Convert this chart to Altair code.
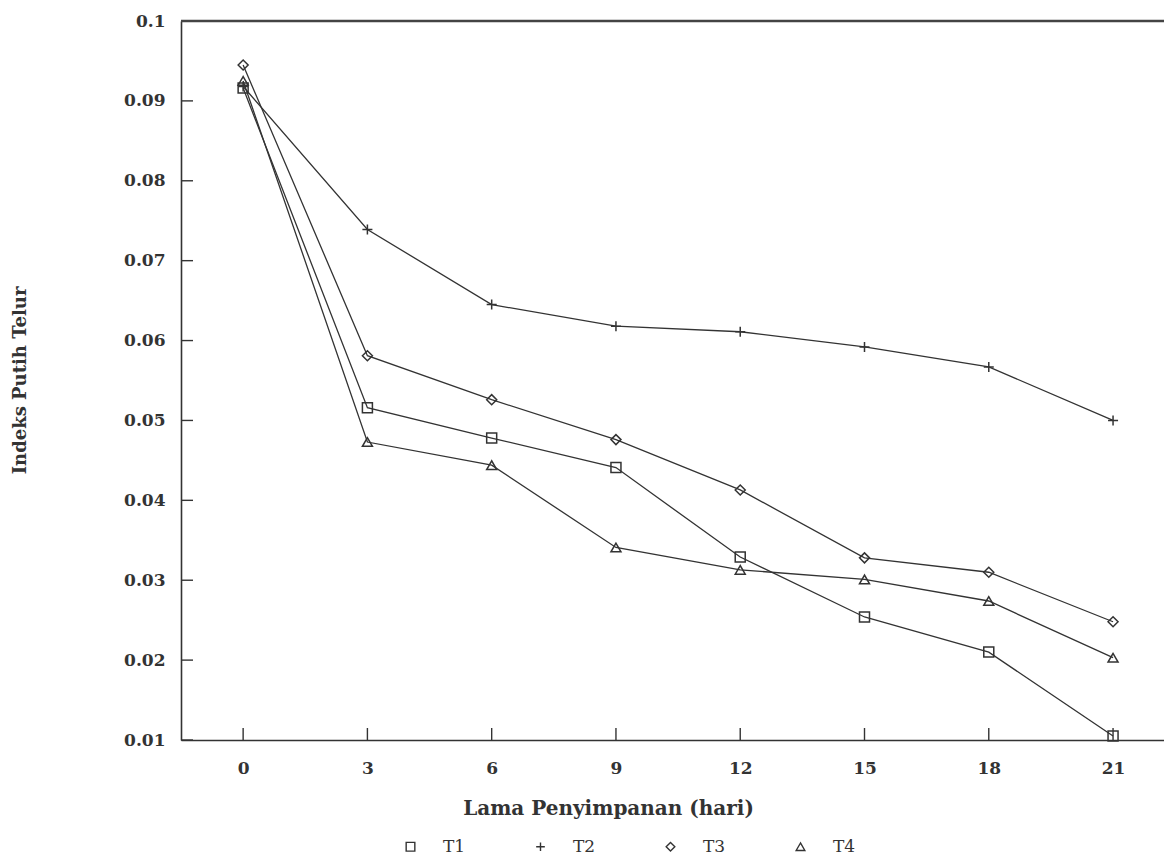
import altair as alt
import pandas as pd

days = [0, 3, 6, 9, 12, 15, 18, 21]
t1 = [0.0916, 0.0516, 0.0478, 0.0441, 0.0329, 0.0254, 0.0210, 0.0105]
t2 = [0.0918, 0.0739, 0.0645, 0.0618, 0.0611, 0.0592, 0.0567, 0.0500]
t3 = [0.0945, 0.0581, 0.0526, 0.0476, 0.0413, 0.0328, 0.0310, 0.0248]
t4 = [0.0925, 0.0473, 0.0444, 0.0341, 0.0313, 0.0301, 0.0274, 0.0203]
series_names = ["T1", "T2", "T3", "T4"]
y_ticks = [0.01, 0.02, 0.03, 0.04, 0.05, 0.06, 0.07, 0.08, 0.09, 0.1]

rows = []
for name, vals in zip(series_names, [t1, t2, t3, t4]):
    for d, v in zip(days, vals):
        rows.append({"day": d, "val": v, "series": name})
df = pd.DataFrame(rows)

FONT = "DejaVu Serif"
INK = "#333"
plus_path = "M-1,0L1,0M0,-1L0,1"

x_scale = alt.Scale(domain=[-1.5, 22.23], nice=False, zero=False)
y_scale = alt.Scale(domain=[0.01, 0.1], nice=False, zero=False)

x_axis = alt.Axis(values=days, tickSize=0, labelPadding=20, domainColor=INK,
                  domainWidth=1.6, grid=False, labelFont=FONT, labelFontSize=17,
                  labelFontWeight="bold", labelColor=INK,
                  title="Lama Penyimpanan (hari)", titleFont=FONT, titleFontSize=20,
                  titleFontWeight="bold", titleColor=INK, titleX=427, titleY=68,
                  titleAlign="center", titleBaseline="middle", format="d")
y_axis = alt.Axis(values=y_ticks, tickSize=0, labelPadding=16, domainColor=INK,
                  domainWidth=1.6, grid=False, labelFont=FONT, labelFontSize=17,
                  labelFontWeight="bold", labelColor=INK,
                  labelExpr="datum.value == 0.1 ? '0.1' : format(datum.value, '.2f')",
                  title="Indeks Putih Telur", titleFont=FONT, titleFontSize=18,
                  titleFontWeight="bold", titleColor=INK, titleX=-161, titleY=359,
                  titleAngle=270, titleAlign="center", titleBaseline="middle")

base = alt.Chart(df)

lines = base.mark_line(color=INK, strokeWidth=1.3).encode(
    x=alt.X("day:Q", scale=x_scale, axis=x_axis),
    y=alt.Y("val:Q", scale=y_scale, axis=y_axis),
    detail="series:N",
)

points = base.mark_point(filled=False, color=INK, strokeWidth=1.5, size=100, opacity=1).encode(
    x=alt.X("day:Q", scale=x_scale),
    y=alt.Y("val:Q", scale=y_scale),
    shape=alt.Shape("series:N",
                    scale=alt.Scale(domain=series_names,
                                    range=["square", plus_path, "diamond", "triangle-up"]),
                    legend=alt.Legend(orient="none", legendX=221, legendY=817,
                                      direction="horizontal", title=None,
                                      labelFont=FONT, labelFontSize=17, labelColor=INK,
                                      symbolStrokeColor=INK, symbolStrokeWidth=1.4,
                                      symbolFillColor="transparent", symbolSize=75,
                                      labelOffset=24, columnPadding=66)),
)

ytick_df = pd.DataFrame({"v": y_ticks[:-1]})
yticks = alt.Chart(ytick_df).mark_rule(color=INK, strokeWidth=1.4).encode(
    y=alt.Y("v:Q", scale=y_scale), x=alt.value(0), x2=alt.value(12))

xtick_df = pd.DataFrame({"d": days})
xticks = alt.Chart(xtick_df).mark_rule(color=INK, strokeWidth=1.4).encode(
    x=alt.X("d:Q", scale=x_scale), y=alt.value(719), y2=alt.value(707))

top_df = pd.DataFrame({"t": [0.1]})
top_line = alt.Chart(top_df).mark_rule(color="#444", strokeWidth=2.4).encode(
    y=alt.Y("t:Q", scale=y_scale))

chart = alt.layer(lines, points, yticks, xticks, top_line).properties(
    width=983, height=719,
    padding={"left": 181, "top": 21, "right": 0, "bottom": 121},
    autosize=alt.AutoSizeParams(type="none"),
    background="white",
).configure_view(stroke=None)

chart.save("out.html", embed_options={"renderer": "svg", "actions": False})
